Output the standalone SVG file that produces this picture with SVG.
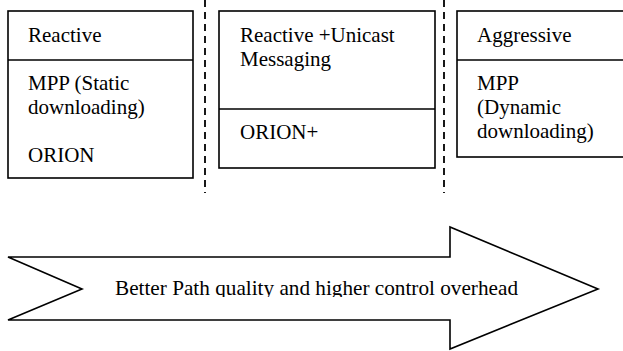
<svg xmlns="http://www.w3.org/2000/svg" width="623" height="351" viewBox="0 0 623 351">
<style>
  .box { fill: #ffffff; stroke: #000000; stroke-width: 1.6; }
  .div { stroke: #000000; stroke-width: 1.6; fill: none; }
  .dash { stroke: #000000; stroke-width: 1.8; stroke-dasharray: 7 5; fill: none; }
  text { font-family: 'Liberation Serif', 'DejaVu Serif', serif; font-size: 21px; fill: #000000; }
  .arrow { fill: #ffffff; stroke: #000000; stroke-width: 1.6; stroke-linejoin: miter; }
</style>
<defs>
  <clipPath id="clipText"><rect x="90" y="265" width="460" height="32"/></clipPath>
</defs>
<rect width="623" height="351" fill="#ffffff"/>
<g id="connectors">
  <line class="dash" x1="205" y1="0" x2="205" y2="193"/>
  <line class="dash" x1="444" y1="0" x2="444" y2="193"/>
</g>
<g id="reactive">
  <rect class="box" x="8" y="11" width="185" height="167"/>
  <line class="div" x1="8" y1="60" x2="193" y2="60"/>
  <text x="28" y="42">Reactive</text>
  <text x="28" y="90">MPP (Static</text>
  <text x="28" y="114">downloading)</text>
  <text x="28" y="162">ORION</text>
</g>
<g id="reactive-unicast">
  <rect class="box" x="219" y="11" width="216" height="157"/>
  <line class="div" x1="219" y1="109" x2="435" y2="109"/>
  <text x="240" y="42">Reactive +Unicast</text>
  <text x="240" y="66">Messaging</text>
  <text x="240" y="139">ORION+</text>
</g>
<g id="aggressive">
  <rect class="box" x="457" y="11" width="190" height="146"/>
  <line class="div" x1="457" y1="60" x2="647" y2="60"/>
  <text x="477" y="42">Aggressive</text>
  <text x="477" y="90">MPP</text>
  <text x="477" y="114">(Dynamic</text>
  <text x="477" y="138">downloading)</text>
</g>
<g id="progress-arrow">
  <polygon class="arrow" points="8,257 450,257 450,227 598,289 450,349 450,320 8,320 82,289"/>
  <text x="115" y="295" textLength="403" lengthAdjust="spacingAndGlyphs" clip-path="url(#clipText)">Better Path quality and higher control overhead</text>
</g>
</svg>
